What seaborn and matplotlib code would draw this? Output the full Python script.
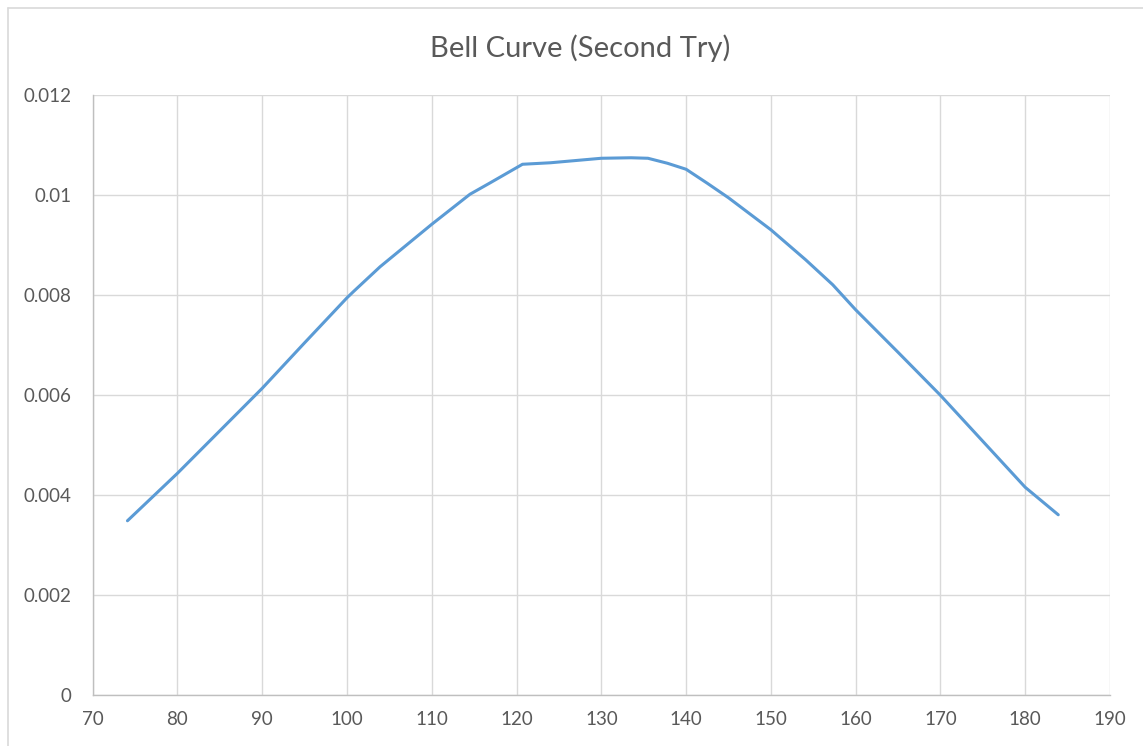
import matplotlib
matplotlib.use("Agg")
import matplotlib.pyplot as plt
import seaborn as sns
import pandas as pd

# Values
x_values = [74.1, 80, 85, 90, 95, 100, 100.8, 103.9, 110, 114.5, 116.9, 120.7,
            124, 130, 133.5, 135.5, 137.8, 140, 142.5, 145, 150, 154.1, 157.3,
            160, 165, 170, 175, 180, 183.9]
y_values = [0.00349, 0.00444, 0.00529, 0.00614, 0.00705, 0.00795, 0.00808,
            0.00857, 0.00942, 0.01002, 0.01025, 0.01062, 0.01065, 0.01074,
            0.01075, 0.01074, 0.01064, 0.01052, 0.01024, 0.00995, 0.00931,
            0.00871, 0.00821, 0.00771, 0.00686, 0.00600, 0.00508,
            0.00416, 0.00361]
x_ticks = [70, 80, 90, 100, 110, 120, 130, 140, 150, 160, 170, 180, 190]
y_ticks = [0, 0.002, 0.004, 0.006, 0.008, 0.01, 0.012]
y_tick_labels = ["0", "0.002", "0.004", "0.006", "0.008", "0.01", "0.012"]
title = "Bell Curve (Second Try)"

df = pd.DataFrame({"x": x_values, "y": y_values})

sns.set_theme(style="white")
plt.rcParams["font.family"] = ["Lato", "DejaVu Sans"]

fig = plt.figure(figsize=(11.43, 7.46), dpi=100)
ax = fig.add_axes([0.0811, 0.068, 0.8900, 0.8043])

sns.lineplot(data=df, x="x", y="y", ax=ax, color="#5b9bd5", linewidth=2.2,
             sort=False, estimator=None)
ax.lines[0].set_solid_joinstyle("round")
ax.lines[0].set_solid_capstyle("round")

ax.set_xlim(70, 190)
ax.set_ylim(0, 0.012)
ax.set_xticks(x_ticks)
ax.set_xticklabels([str(t) for t in x_ticks])
ax.set_yticks(y_ticks)
ax.set_yticklabels(y_tick_labels)
ax.grid(True, color="#d9d9d9", linewidth=1.0)
ax.set_axisbelow(True)
ax.set_xlabel("")
ax.set_ylabel("")
for side in ["top", "right"]:
    ax.spines[side].set_visible(False)
for side in ["left", "bottom"]:
    ax.spines[side].set_color("#bfbfbf")
    ax.spines[side].set_linewidth(1.0)
ax.tick_params(axis="both", length=0, labelsize=13.5, colors="#595959")
ax.tick_params(axis="y", pad=15)
ax.tick_params(axis="x", pad=11)

fig.text(0.5075, 0.936, title, ha="center", va="center", fontsize=21,
         color="#595959")

# Outer chart-area border (left and top edges visible)
fig.add_artist(plt.Line2D([8/1143, 8/1143], [0, 1 - 8/746], transform=fig.transFigure,
                          color="#d9d9d9", linewidth=1.2))
fig.add_artist(plt.Line2D([8/1143, 1], [1 - 8/746, 1 - 8/746], transform=fig.transFigure,
                          color="#d9d9d9", linewidth=1.2))

fig.savefig("out.png", dpi=100, facecolor="white")
